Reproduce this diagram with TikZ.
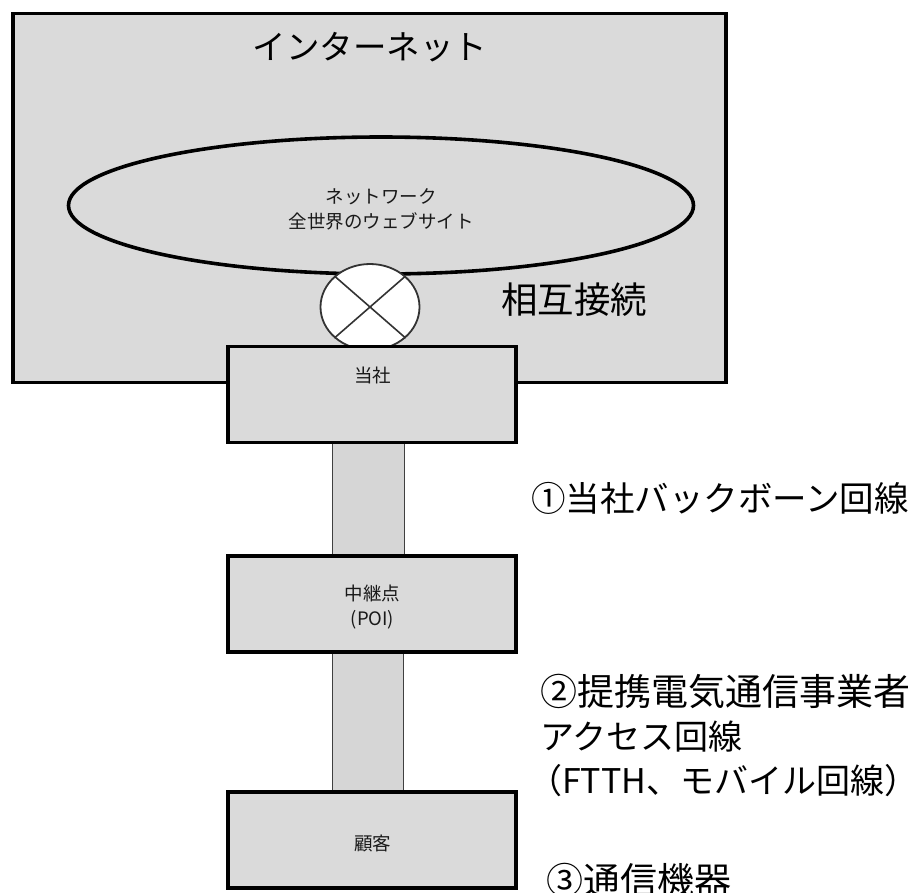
\documentclass[tikz,border=0pt]{standalone}
\usepackage{fontspec}
\setmainfont{Noto Sans CJK JP}
\usetikzlibrary{shapes.geometric}
\tikzset{
 px/.style={x=1pt,y=-1pt},
 boxa/.style={draw=black,line width=3.6pt,fill=#1,inner sep=0pt},
 barbox/.style={draw=black!75,line width=1.5pt,fill=greybar,inner sep=0pt},
 big/.style={font=\fontsize{33.5pt}{40pt}\selectfont,inner sep=0pt,text=black},
 lab/.style={font=\fontsize{35pt}{44pt}\selectfont,inner sep=0pt,text=black,anchor=west,align=left},
 small/.style={font=\fontsize{18.5pt}{25pt}\selectfont,inner sep=0pt,align=center,text=black!90},
}
\definecolor{greybg}{HTML}{DADADA}
\definecolor{greybar}{HTML}{D6D6D6}
\newcommand{\fs}[1]{\fontsize{#1pt}{44pt}\selectfont}
\begin{document}
\begin{tikzpicture}[px]
\useasboundingbox (0,0) rectangle (915,892);
\fill[white] (0,0) rectangle (915,892);
\node[boxa=greybg,minimum width=713pt,minimum height=369pt] (inet) at (369.5,198) {};
\node[big] (inettext) at (370,47) {インターネット};
\node[draw=black,line width=3.6pt,fill=greybg,ellipse,minimum width=625pt,minimum height=137pt,inner sep=0pt] (web) at (381,205.5) {};
\node[small] (webtext) at (381,209) {ネットワーク\\全世界のウェブサイト};
\node[draw=black!80,line width=1.8pt,fill=white,ellipse,minimum width=99pt,minimum height=86pt,inner sep=0pt] (ix) at (370,307) {};
\draw[line width=1.6pt,black!80] (ix.north west) -- (ix.south east);
\draw[line width=1.6pt,black!80] (ix.north east) -- (ix.south west);
\node[lab,font=\fs{36.5}] (sogo) at (501,300) {相互接続};
\node[barbox,minimum width=72pt,minimum height=114pt] (bar1) at (368.5,499) {};
\node[barbox,minimum width=71pt,minimum height=145pt] (bar2) at (368,720) {};
\node[boxa=greybg,minimum width=288pt,minimum height=96pt] (co) at (372,394.5) {};
\node[small] at (372.5,375) {当社};
\node[boxa=greybg,minimum width=288pt,minimum height=96pt] (poi) at (372,604) {};
\node[small] at (372.5,607) {中継点\\(POI)};
\node[boxa=greybg,minimum width=288pt,minimum height=96pt] (cust) at (372,840) {};
\node[small] at (372.5,843) {顧客};
\node[lab,font=\fs{34.5}] (l1) at (531,498) {①当社バックボーン回線};
\node[lab] (l2) at (540,735) {{\fs{37}②提携電気通信事業者}\\{\fs{34}アクセス回線}\\\hspace*{-12pt}{\fs{34}（FTTH、モバイル回線）}};
\node[lab,font=\fs{37}] (l3) at (546,880) {③通信機器};
\end{tikzpicture}
\end{document}
